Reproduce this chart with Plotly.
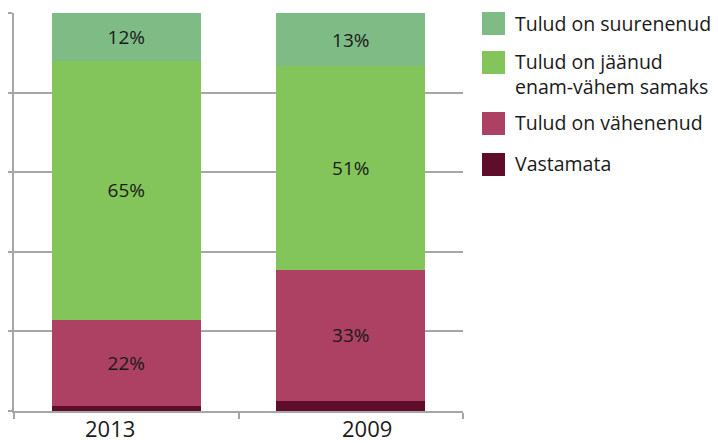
import plotly.graph_objects as go

# Survey: how household income has changed (share of respondents, %)
years = ["2013", "2009"]
series_names = [
    "Vastamata",
    "Tulud on vähenenud",
    "Tulud on jäänud<br>enam-vähem samaks",
    "Tulud on suurenenud",
]
vastamata = [1.3, 2.6]
vahenenud = [21.6, 32.9]
jaanud = [65.1, 51.1]
suurenenud = [12.0, 13.4]
series_values = [vastamata, vahenenud, jaanud, suurenenud]
series_colors = ["#5e0e2b", "#ac4163", "#83c55a", "#7ebb85"]
label_series = [False, True, True, True]

W, H = 718, 443
L, R, T, B = 14, 255, 13, 32
FONT = "Open Sans"
TEXT = "#1a1a1a"

fig = go.Figure()
for name, vals, col, lab in zip(series_names, series_values, series_colors, label_series):
    fig.add_trace(go.Bar(
        x=years, y=vals, name=name, marker=dict(color=col, line=dict(width=0)),
        text=[f"{round(v)}%" for v in vals] if lab else None,
        textposition="inside" if lab else "none",
        insidetextanchor="middle",
        textangle=0,
        textfont=dict(family=FONT, size=19, color=TEXT),
        showlegend=False, hoverinfo="skip",
    ))

pw = W - L - R
ph = H - T - B

def px_x(x):
    return (x - L) / pw

def px_y(y):
    return 1 - (y - T) / ph

# Category labels under the bars, slightly offset outward
label_shift = [-16, 16]
for i, (yr, sh) in enumerate(zip(years, label_shift)):
    fig.add_annotation(xref="x", yref="paper", x=i, y=px_y(428), xshift=sh,
                       xanchor="center", yanchor="middle", text=yr,
                       showarrow=False, borderpad=0,
                       font=dict(family=FONT, size=22, color=TEXT))

# Legend: square swatches with labels to the right of the plot
legend_order = [3, 2, 1, 0]
swatch_tops = [12, 51, 112, 153]
text_centers = [23, 74, 123, 164]
for idx, top, tc in zip(legend_order, swatch_tops, text_centers):
    fig.add_shape(type="rect", xref="paper", yref="paper",
                  x0=px_x(482), x1=px_x(505), y0=px_y(top), y1=px_y(top + 23),
                  fillcolor=series_colors[idx], line=dict(width=0))
    fig.add_annotation(xref="paper", yref="paper", x=px_x(513), y=px_y(tc),
                       xanchor="left", yanchor="middle", align="left",
                       text=series_names[idx], showarrow=False,
                       font=dict(family=FONT, size=19.5, color=TEXT))

fig.update_layout(
    width=W, height=H,
    margin=dict(l=L, r=R, t=T, b=B, pad=0, autoexpand=False),
    barmode="stack", bargap=0.336,
    plot_bgcolor="white", paper_bgcolor="white",
    xaxis=dict(
        type="category", range=[-0.5, 1.5],
        showline=True, linecolor="#a6a6a6", linewidth=2,
        ticks="outside", tickson="boundaries", ticklen=6, tickcolor="#a6a6a6",
        tickwidth=2, showticklabels=False, automargin=False,
        showgrid=False, zeroline=False,
    ),
    yaxis=dict(
        range=[0, 100], dtick=20, showticklabels=False, automargin=False,
        showline=True, linecolor="#a6a6a6", linewidth=2,
        ticks="outside", ticklen=4, tickcolor="#a6a6a6", tickwidth=2,
        showgrid=True, gridcolor="#a6a6a6", gridwidth=2, zeroline=False,
    ),
)

fig.write_html("out.html")
